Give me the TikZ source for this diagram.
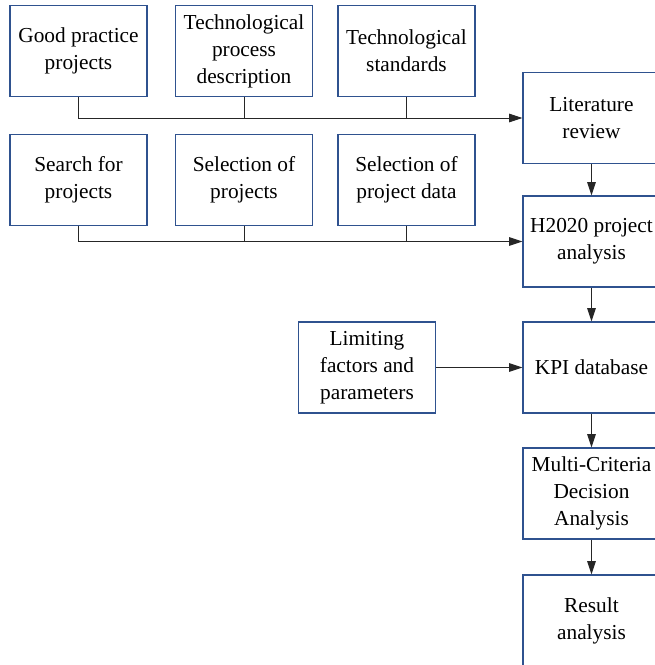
\documentclass[tikz,border=0pt]{standalone}
\usepackage{fontspec}
\setmainfont{Liberation Serif}
\usepackage{xcolor}
\usetikzlibrary{arrows.meta}

\definecolor{boxblue}{RGB}{47,82,143}

\tikzset{
    stepbox/.style={draw=boxblue, line width=0.9pt, minimum width=102.75pt, minimum height=68.25pt,
        inner sep=0pt, align=center, font=\fontsize{16}{20.25}\selectfont},
    link/.style={line width=0.75pt, draw=black!85},
    flow/.style={link, -{Triangle[length=10pt,width=6.5pt]}}
}

\begin{document}
\begin{tikzpicture}[x=0.75pt, y=-0.75pt]
    \useasboundingbox (0,0) rectangle (655,665);
    \clip (0,0) rectangle (655,665);

    % Literature sources
    \node[stepbox] (goodprac) at (78.5,51) {Good practice\\projects};
    \node[stepbox] (techproc) at (244,51) {Technological\\process\\description};
    \node[stepbox] (techstd) at (406.5,51) {Technological\\standards};

    % Project search
    \node[stepbox] (search) at (78.5,180) {Search for\\projects};
    \node[stepbox] (selproj) at (244,180) {Selection of\\projects};
    \node[stepbox] (seldata) at (406.5,180) {Selection of\\project data};

    % Main column
    \node[stepbox] (litrev) at (591.5,118) {Literature\\review};
    \node[stepbox] (hproj) at (591.5,241.5) {H2020 project\\analysis};
    \node[stepbox] (kpidb) at (591.5,367.5) {KPI database};
    \node[stepbox] (mcda) at (591.5,493.5) {Multi-Criteria\\Decision\\Analysis};
    \node[stepbox] (result) at (591.5,620.5) {Result\\analysis};

    % Side input
    \node[stepbox] (limit) at (367,367.5) {Limiting\\factors and\\parameters};

    % Collecting lines
    \draw[flow] (goodprac.south) |- (litrev.west);
    \draw[link] (techproc.south) -- (techproc.south |- litrev.west);
    \draw[link] (techstd.south) -- (techstd.south |- litrev.west);
    \draw[flow] (search.south) |- (hproj.west);
    \draw[link] (selproj.south) -- (selproj.south |- hproj.west);
    \draw[link] (seldata.south) -- (seldata.south |- hproj.west);

    % Main flow
    \draw[flow] (litrev) -- (hproj);
    \draw[flow] (hproj) -- (kpidb);
    \draw[flow] (limit) -- (kpidb);
    \draw[flow] (kpidb) -- (mcda);
    \draw[flow] (mcda) -- (result);
\end{tikzpicture}
\end{document}
